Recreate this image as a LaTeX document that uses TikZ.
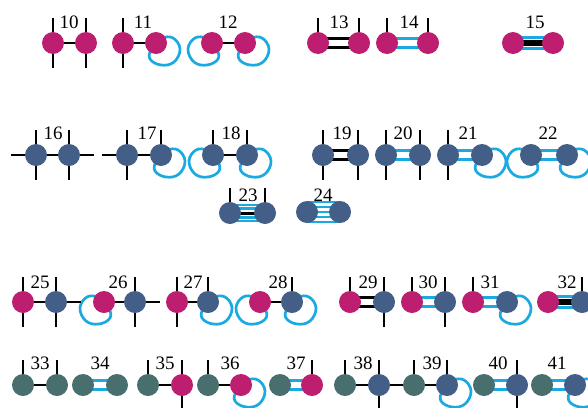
\documentclass[tikz,border=0pt]{standalone}
\usepackage{fontspec}
\setmainfont{Liberation Serif}
\pgfdeclarelayer{bg}
\pgfdeclarelayer{paper}
\pgfsetlayers{paper,bg,main}
\definecolor{mag}{RGB}{190,30,112}
\definecolor{blu}{RGB}{68,95,135}
\definecolor{tea}{RGB}{72,110,110}
\definecolor{cya}{RGB}{26,170,225}
\tikzset{
  atm/.style={circle,minimum size=22pt,inner sep=0pt,draw=none},
  M/.style={atm,fill=mag},
  B/.style={atm,fill=blu},
  T/.style={atm,fill=tea},
  blk/.style={draw=black,line width=2.7pt},
  bk/.style={draw=black,line width=2.2pt},
  bl/.style={draw=cya,line width=2.2pt},
  cyl/.style={draw=cya,line width=2.7pt},
  lab/.style={inner sep=0pt,font=\fontsize{19}{19}\selectfont}
}
\newcommand\atom[4]{\node[#1] (#2) at (#3,#4) {};}
\newcommand\sbond[2]{\draw[blk] (#1) -- (#2);}
\newcommand\dbond[3]{\begin{pgfonlayer}{bg}
  \draw[#3] ([yshift=4.5pt]#1.center) -- ([yshift=4.5pt]#2.center);
  \draw[#3] ([yshift=-4.5pt]#1.center) -- ([yshift=-4.5pt]#2.center);
\end{pgfonlayer}}
\newcommand\qbond[2]{\begin{pgfonlayer}{bg}
  \draw[bl] ([yshift=5.5pt]#1.center) -- ([yshift=5.5pt]#2.center);
  \draw[bl] ([yshift=-5.5pt]#1.center) -- ([yshift=-5.5pt]#2.center);
  \draw[bk] ([yshift=1.5pt]#1.center) -- ([yshift=1.5pt]#2.center);
  \draw[bk] ([yshift=-1.5pt]#1.center) -- ([yshift=-1.5pt]#2.center);
\end{pgfonlayer}}
\newcommand\legU[1]{\draw[blk] (#1.north) -- ++(0,-14);}
\newcommand\legD[1]{\draw[blk] (#1.south) -- ++(0,14);}
\newcommand\legL[1]{\draw[blk] (#1.west) -- ++(-14,0);}
\newcommand\legR[1]{\draw[blk] (#1.east) -- ++(14,0);}
\newcommand\loopshape{plot[smooth cycle,tension=0.7] coordinates {(6,-5) (17,-5) (24,6) (18,19) (5,22) (-6,16) (-5,6) (0,0)}}
\newcommand\loopR[1]{\begin{pgfonlayer}{bg}\draw[cyl,shift={(#1.center)}] \loopshape;\end{pgfonlayer}}
\newcommand\loopL[1]{\begin{pgfonlayer}{bg}\draw[cyl,shift={(#1.center)},xscale=-1] \loopshape;\end{pgfonlayer}}
\begin{document}
\begin{tikzpicture}[x=1pt,y=-1pt]
\begin{pgfonlayer}{paper}
\fill[white] (0,0) rectangle (588,407);
\end{pgfonlayer}
\useasboundingbox (0,0) rectangle (588,407);
% ---------- row 1 ----------
\atom{M}{a10}{53}{43}\atom{M}{b10}{86}{43}
\sbond{a10}{b10}\legU{a10}\legD{a10}\legU{b10}\legD{b10}
\node[lab] (l10) at (69,22) {10};
\atom{M}{a11}{123}{43}\atom{M}{b11}{156}{43}
\sbond{a11}{b11}\legU{a11}\legD{a11}\loopR{b11}
\node[lab] (l11) at (143,22) {11};
\atom{M}{a12}{212}{43}\atom{M}{b12}{245}{43}
\sbond{a12}{b12}\loopL{a12}\loopR{b12}
\node[lab] (l12) at (228,22) {12};
\atom{M}{a13}{318}{43}\atom{M}{b13}{359}{43}
\dbond{a13}{b13}{bk}\legU{a13}\legU{b13}
\node[lab] (l13) at (339,22) {13};
\atom{M}{a14}{387}{43}\atom{M}{b14}{428}{43}
\dbond{a14}{b14}{bl}\legU{a14}\legU{b14}
\node[lab] (l14) at (409,22) {14};
\atom{M}{a15}{513}{43}\atom{M}{b15}{553}{43}
\qbond{a15}{b15}
\node[lab] (l15) at (535,22) {15};
% ---------- row 2 ----------
\atom{B}{a16}{36}{155}\atom{B}{b16}{69}{155}
\sbond{a16}{b16}\legU{a16}\legD{a16}\legL{a16}\legU{b16}\legD{b16}\legR{b16}
\node[lab] (l16) at (53,133) {16};
\atom{B}{a17}{127}{155}\atom{B}{b17}{161}{155}
\sbond{a17}{b17}\legU{a17}\legD{a17}\legL{a17}\legU{b17}\loopR{b17}
\node[lab] (l17) at (147,133) {17};
\atom{B}{a18}{213}{155}\atom{B}{b18}{247}{155}
\sbond{a18}{b18}\legU{a18}\legU{b18}\loopL{a18}\loopR{b18}
\node[lab] (l18) at (231,133) {18};
\atom{B}{a19}{323}{155}\atom{B}{b19}{358}{155}
\dbond{a19}{b19}{bk}\legU{a19}\legD{a19}\legU{b19}\legD{b19}
\node[lab] (l19) at (342,133) {19};
\atom{B}{a20}{386}{155}\atom{B}{b20}{420}{155}
\dbond{a20}{b20}{bl}\legU{a20}\legD{a20}\legU{b20}\legD{b20}
\node[lab] (l20) at (403,133) {20};
\atom{B}{a21}{448}{155}\atom{B}{b21}{482}{155}
\dbond{a21}{b21}{bl}\legU{a21}\legD{a21}\loopR{b21}
\node[lab] (l21) at (468,133) {21};
\atom{B}{a22}{531}{155}\atom{B}{b22}{567}{155}
\dbond{a22}{b22}{bl}\loopL{a22}\loopR{b22}
\node[lab] (l22) at (548,133) {22};
\atom{B}{a23}{230}{213}\atom{B}{b23}{265}{213}
\legU{a23}\legU{b23}
\begin{pgfonlayer}{bg}
\draw[bl] ([yshift=8pt]a23.center) -- ([yshift=8pt]b23.center);
\draw[bl] ([yshift=4.5pt]a23.center) -- ([yshift=4.5pt]b23.center);
\draw[bk,line width=3pt] ([yshift=0pt]a23.center) -- ([yshift=0pt]b23.center);
\draw[bl] ([yshift=-4.5pt]a23.center) -- ([yshift=-4.5pt]b23.center);
\draw[bl] ([yshift=-8pt]a23.center) -- ([yshift=-8pt]b23.center);
\end{pgfonlayer}
\node[lab] (l23) at (248,195) {23};
\atom{B}{a24}{307}{212}\atom{B}{b24}{340}{212}
\begin{pgfonlayer}{bg}
\foreach \d in {-9.8,-4.9,0,4.9,9.8}{
  \draw[bl] ([yshift=\d pt]a24.center) -- ([yshift=\d pt]b24.center);}
\end{pgfonlayer}
\node[lab] (l24) at (323,195) {24};
% ---------- row 3 ----------
\atom{M}{a25}{23}{302}\atom{B}{b25}{56}{302}
\sbond{a25}{b25}\legU{a25}\legD{a25}\legU{b25}\legD{b25}\legR{b25}
\node[lab] (l25) at (40,282) {25};
\atom{M}{a26}{104}{302}\atom{B}{b26}{135}{302}
\sbond{a26}{b26}\loopL{a26}\legU{b26}\legD{b26}\legR{b26}
\node[lab] (l26) at (118,282) {26};
\atom{M}{a27}{177}{302}\atom{B}{b27}{208}{302}
\sbond{a27}{b27}\legU{a27}\legD{a27}\legU{b27}\loopR{b27}
\node[lab] (l27) at (193,282) {27};
\atom{M}{a28}{260}{302}\atom{B}{b28}{292}{302}
\sbond{a28}{b28}\loopL{a28}\legU{b28}\loopR{b28}
\node[lab] (l28) at (278,282) {28};
\atom{M}{a29}{350}{302}\atom{B}{b29}{384}{302}
\dbond{a29}{b29}{bk}\legU{a29}\legU{b29}\legD{b29}
\node[lab] (l29) at (368,282) {29};
\atom{M}{a30}{412}{302}\atom{B}{b30}{445}{302}
\dbond{a30}{b30}{bl}\legU{a30}\legU{b30}\legD{b30}
\node[lab] (l30) at (428,282) {30};
\atom{M}{a31}{473}{302}\atom{B}{b31}{507}{302}
\dbond{a31}{b31}{bl}\legU{a31}\loopR{b31}
\node[lab] (l31) at (490,282) {31};
\atom{M}{a32}{548}{302}\atom{B}{b32}{582}{302}
\qbond{a32}{b32}\legU{b32}
\node[lab] (l32) at (567,282) {32};
% ---------- row 4 ----------
\atom{T}{a33}{23}{385}\atom{T}{b33}{57}{385}
\sbond{a33}{b33}\legU{a33}\legU{b33}
\node[lab] (l33) at (40,363) {33};
\atom{T}{a34}{83}{385}\atom{T}{b34}{117}{385}
\dbond{a34}{b34}{bl}
\node[lab] (l34) at (100,363) {34};
\atom{T}{a35}{148}{385}\atom{M}{b35}{182}{385}
\sbond{a35}{b35}\legU{a35}\legU{b35}\legD{b35}
\node[lab] (l35) at (165,363) {35};
\atom{T}{a36}{208}{385}\atom{M}{b36}{241}{385}
\sbond{a36}{b36}\legU{a36}\loopR{b36}
\node[lab] (l36) at (230,363) {36};
\atom{T}{a37}{280}{385}\atom{M}{b37}{312}{385}
\dbond{a37}{b37}{bl}\legU{b37}
\node[lab] (l37) at (296,363) {37};
\atom{T}{a38}{345}{385}\atom{B}{b38}{379}{385}
\sbond{a38}{b38}\legU{a38}\legU{b38}\legD{b38}\legR{b38}
\node[lab] (l38) at (363,363) {38};
\atom{T}{a39}{414}{385}\atom{B}{b39}{447}{385}
\sbond{a39}{b39}\legU{a39}\legU{b39}\loopR{b39}
\node[lab] (l39) at (432,363) {39};
\atom{T}{a40}{484}{385}\atom{B}{b40}{517}{385}
\dbond{a40}{b40}{bl}\legU{b40}\legD{b40}
\node[lab] (l40) at (498,363) {40};
\atom{T}{a41}{542}{385}\atom{B}{b41}{575}{385}
\dbond{a41}{b41}{bl}\loopR{b41}
\node[lab] (l41) at (557,363) {41};
\end{tikzpicture}
\end{document}
